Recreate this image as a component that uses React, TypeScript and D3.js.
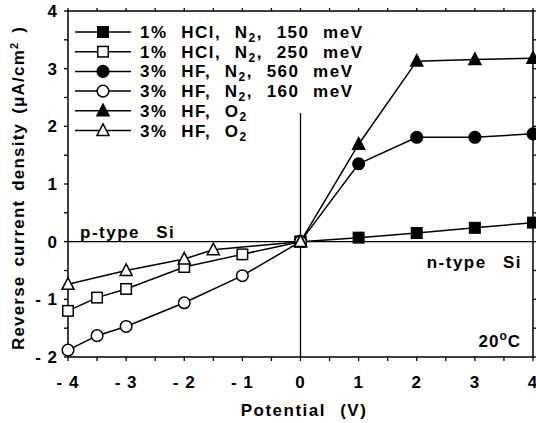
import React from "react";
import * as d3 from "d3";

const hclFilledX = [0, 1, 2, 3, 4];
const hclFilledY = [0, 0.07, 0.15, 0.24, 0.33];
const hclOpenX = [-4, -3.5, -3, -2, -1, 0];
const hclOpenY = [-1.2, -0.97, -0.82, -0.44, -0.22, 0];
const hfN2FilledX = [0, 1, 2, 3, 4];
const hfN2FilledY = [0, 1.35, 1.81, 1.81, 1.87];
const hfN2OpenX = [-4, -3.5, -3, -2, -1, 0];
const hfN2OpenY = [-1.88, -1.63, -1.47, -1.06, -0.59, 0];
const hfO2FilledX = [0, 1, 2, 3, 4];
const hfO2FilledY = [0, 1.69, 3.13, 3.16, 3.18];
const hfO2OpenX = [-4, -3, -2, -1.5, 0];
const hfO2OpenY = [-0.74, -0.5, -0.3, -0.14, 0];

const legendLabels = [
  ["1% HCl, N", "2", ", 150 meV"],
  ["1% HCl, N", "2", ", 250 meV"],
  ["3% HF, N", "2", ", 560 meV"],
  ["3% HF, N", "2", ", 160 meV"],
  ["3% HF, O", "2", ""],
  ["3% HF, O", "2", ""],
];
const xTicks = [-4, -3, -2, -1, 0, 1, 2, 3, 4];
const yTicks = [-2, -1, 0, 1, 2, 3, 4];

type Marker = "square" | "circle" | "triangle";

const series: { xs: number[]; ys: number[]; marker: Marker; filled: boolean }[] = [
  { xs: hclFilledX, ys: hclFilledY, marker: "square", filled: true },
  { xs: hclOpenX, ys: hclOpenY, marker: "square", filled: false },
  { xs: hfN2FilledX, ys: hfN2FilledY, marker: "circle", filled: true },
  { xs: hfN2OpenX, ys: hfN2OpenY, marker: "circle", filled: false },
  { xs: hfO2FilledX, ys: hfO2FilledY, marker: "triangle", filled: true },
  { xs: hfO2OpenX, ys: hfO2OpenY, marker: "triangle", filled: false },
];

const FONT = "'Liberation Sans', Arial, Helvetica, sans-serif";

function MarkerShape({ type, cx, cy, filled }: { type: Marker; cx: number; cy: number; filled: boolean }) {
  const fill = filled ? "#000" : "#fff";
  const sw = 1.5;
  if (type === "square") {
    const s = 10.5;
    return <rect x={cx - s / 2} y={cy - s / 2} width={s} height={s} fill={fill} stroke="#000" strokeWidth={sw} />;
  }
  if (type === "circle") {
    return <circle cx={cx} cy={cy} r={5.8} fill={fill} stroke="#000" strokeWidth={sw} />;
  }
  const h = 11;
  const w = 12;
  const d = `M${cx},${cy - h * 0.6} L${cx + w / 2},${cy + h * 0.45} L${cx - w / 2},${cy + h * 0.45} Z`;
  return <path d={d} fill={fill} stroke="#000" strokeWidth={sw} strokeLinejoin="miter" />;
}

export default function App() {
  const W = 536;
  const H = 423;
  const left = 68;
  const right = 533;
  const top = 11;
  const bottom = 357;
  const x = d3.scaleLinear().domain([-4, 4]).range([left, right]);
  const y = d3.scaleLinear().domain([-2, 4]).range([bottom, top]);
  const line = d3
    .line<[number, number]>()
    .x((d) => x(d[0]))
    .y((d) => y(d[1]));

  const minorX = d3.range(-4, 4.01, 0.5);
  const minorY = d3.range(-2, 4.01, 0.5);

  const legendX0 = 75;
  const legendX1 = 131;
  const legendMarkX = 103;
  const legendTextX = 140;
  const legendY0 = 32;
  const legendDy = 19.7;

  const fs = 17;
  const ls = 1.5;

  return (
    <svg width={W} height={H} style={{ position: "absolute", left: 0, top: 0, background: "#fff" }} fontFamily={FONT}>
      <rect x={0} y={0} width={W} height={H} fill="#fff" />
      <rect x={left} y={top} width={right - left} height={bottom - top} fill="none" stroke="#000" strokeWidth={1.5} />
      <line x1={left} x2={right} y1={y(0)} y2={y(0)} stroke="#000" strokeWidth={1.3} />
      <line x1={x(0)} x2={x(0)} y1={113} y2={bottom} stroke="#000" strokeWidth={1.3} />
      {minorX.map((v) => (
        <g key={"tx" + v}>
          <line x1={x(v)} x2={x(v)} y1={bottom} y2={bottom + 4} stroke="#000" strokeWidth={1.3} />
          <line x1={x(v)} x2={x(v)} y1={top} y2={top - 3} stroke="#000" strokeWidth={1.3} />
        </g>
      ))}
      {minorY.map((v) => (
        <g key={"ty" + v}>
          <line x1={left} x2={left - 4} y1={y(v)} y2={y(v)} stroke="#000" strokeWidth={1.3} />
          <line x1={right} x2={right + 3} y1={y(v)} y2={y(v)} stroke="#000" strokeWidth={1.3} />
        </g>
      ))}
      {xTicks.map((v) => (
        <text key={"xl" + v} x={x(v)} y={388} textAnchor="middle" fontSize={fs} fontWeight="bold" letterSpacing={1}>
          {v < 0 ? "- " + Math.abs(v) : String(v)}
        </text>
      ))}
      {yTicks.map((v) => (
        <text key={"yl" + v} x={58} y={y(v) + 6} textAnchor="end" fontSize={fs} fontWeight="bold" letterSpacing={1}>
          {v < 0 ? "- " + Math.abs(v) : String(v)}
        </text>
      ))}
      <text x={304} y={416} textAnchor="middle" fontSize={fs} fontWeight="bold" letterSpacing={ls} wordSpacing={8}>
        Potential (V)
      </text>
      <text
        transform={`translate(24, ${(top + bottom) / 2 + 4}) rotate(-90)`}
        textAnchor="middle"
        fontSize={fs}
        fontWeight="bold"
        letterSpacing={1.2}
        wordSpacing={3}
      >
        Reverse current density (μA/cm
        <tspan dy={-6} fontSize={11}>2</tspan>
        <tspan dy={6}> )</tspan>
      </text>
      {series.map((s, i) => {
        const pts = s.xs.map((v, j) => [v, s.ys[j]] as [number, number]);
        return (
          <g key={"s" + i}>
            <path d={line(pts) || ""} fill="none" stroke="#000" strokeWidth={1.5} />
            {pts.map((p, j) => (
              <MarkerShape key={j} type={s.marker} cx={x(p[0])} cy={y(p[1])} filled={s.filled} />
            ))}
          </g>
        );
      })}
      {series.map((s, i) => {
        const ly = legendY0 + i * legendDy;
        const lab = legendLabels[i];
        return (
          <g key={"lg" + i}>
            <line x1={legendX0} x2={legendX1} y1={ly} y2={ly} stroke="#000" strokeWidth={1.5} />
            <MarkerShape type={s.marker} cx={legendMarkX} cy={ly} filled={s.filled} />
            <text x={legendTextX} y={ly + 6} fontSize={fs} fontWeight="bold" letterSpacing={ls} wordSpacing={7.4}>
              {lab[0]}
              <tspan dy={4} fontSize={12}>{lab[1]}</tspan>
              <tspan dy={-4}>{lab[2]}</tspan>
            </text>
          </g>
        );
      })}
      <text x={80} y={238} fontSize={fs} fontWeight="bold" letterSpacing={ls} wordSpacing={10}>p-type Si</text>
      <text x={522} y={268} fontSize={fs} fontWeight="bold" textAnchor="end" letterSpacing={ls} wordSpacing={10}>n-type Si</text>
      <text x={521} y={347} fontSize={fs} fontWeight="bold" textAnchor="end" letterSpacing={1}>
        20<tspan dy={-7} fontSize={12}>o</tspan><tspan dy={7}>C</tspan>
      </text>
    </svg>
  );
}
